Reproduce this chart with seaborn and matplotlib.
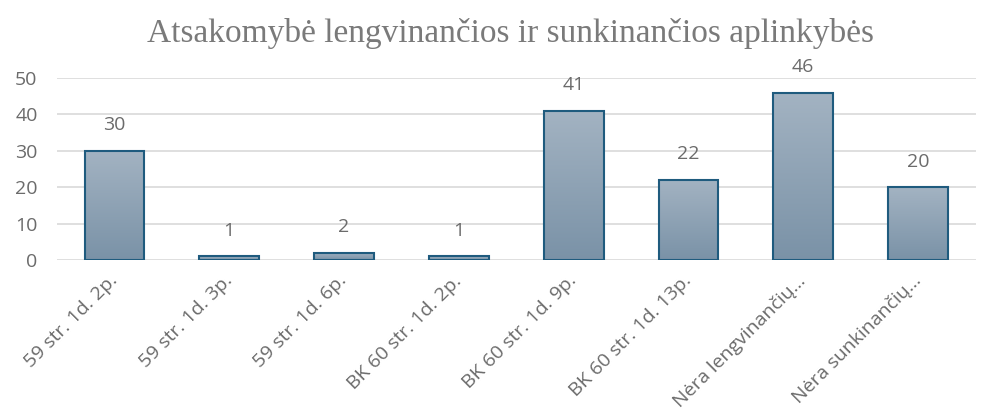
import numpy as np
import pandas as pd
import matplotlib
matplotlib.use("Agg")
import matplotlib.pyplot as plt
import seaborn as sns

kategorijos = [
    "59 str. 1d. 2p.",
    "59 str. 1d. 3p.",
    "59 str. 1d. 6p.",
    "BK 60 str. 1d. 2p.",
    "BK 60 str. 1d. 9p.",
    "BK 60 str. 1d. 13p.",
    "Nėra lengvinančių…",
    "Nėra sunkinančių…",
]
reiksmes = [30, 1, 2, 1, 41, 22, 46, 20]

df = pd.DataFrame({"kat": kategorijos, "n": reiksmes})

sns.set_style("white")
plt.rcParams["font.family"] = ["Open Sans", "DejaVu Sans"]

PILKA = "#6b6b6b"

fig = plt.figure(figsize=(9.93, 4.16), dpi=100)
ax = fig.add_axes([0.0574, 0.375, 0.925, 0.4375])

sns.barplot(data=df, x="kat", y="n", ax=ax, width=0.52,
            color="#8ca2b5", edgecolor="#1f5b7e", linewidth=1.5, zorder=3)

# gradientas kiekvienam stulpeliui
grad = np.linspace(0, 1, 256).reshape(-1, 1)
cmap = matplotlib.colors.LinearSegmentedColormap.from_list("g", ["#7a92a7", "#a3b3c2"])
for p in ax.patches:
    x0, y0 = p.get_x(), p.get_y()
    w, h = p.get_width(), p.get_height()
    im = ax.imshow(grad, cmap=cmap, aspect="auto", origin="lower",
                   extent=[x0, x0 + w, y0, y0 + h], zorder=3.5)
    im.set_clip_path(p)
    p.set_facecolor("none")
    p.set_zorder(4)

for i, v in enumerate(reiksmes):
    ax.text(i, v + 7, str(v), ha="center", va="center", fontsize=14, color=PILKA)

ax.set_xlim(-0.5, len(kategorijos) - 0.5)
ax.set_ylim(0, 50)
ax.set_yticks(range(0, 51, 10))
ax.yaxis.grid(True, color="#d9d9d9", linewidth=1.2, zorder=0)
ax.set_axisbelow(True)
sns.despine(ax=ax, left=True, bottom=True)
ax.tick_params(axis="both", length=0, colors=PILKA)
ax.tick_params(axis="y", labelsize=14, pad=14)
ax.tick_params(axis="x", labelsize=14, pad=13)
plt.setp(ax.get_xticklabels(), rotation=45, ha="right", va="center",
         rotation_mode="anchor")
ax.set_xlabel("")
ax.set_ylabel("")

fig.text(0.514, 0.92, "Atsakomybė lengvinančios ir sunkinančios aplinkybės",
         ha="center", va="center", fontsize=24, color="#7a7a7a",
         family=["Liberation Serif", "DejaVu Serif"])

fig.savefig("out.png", dpi=100)
